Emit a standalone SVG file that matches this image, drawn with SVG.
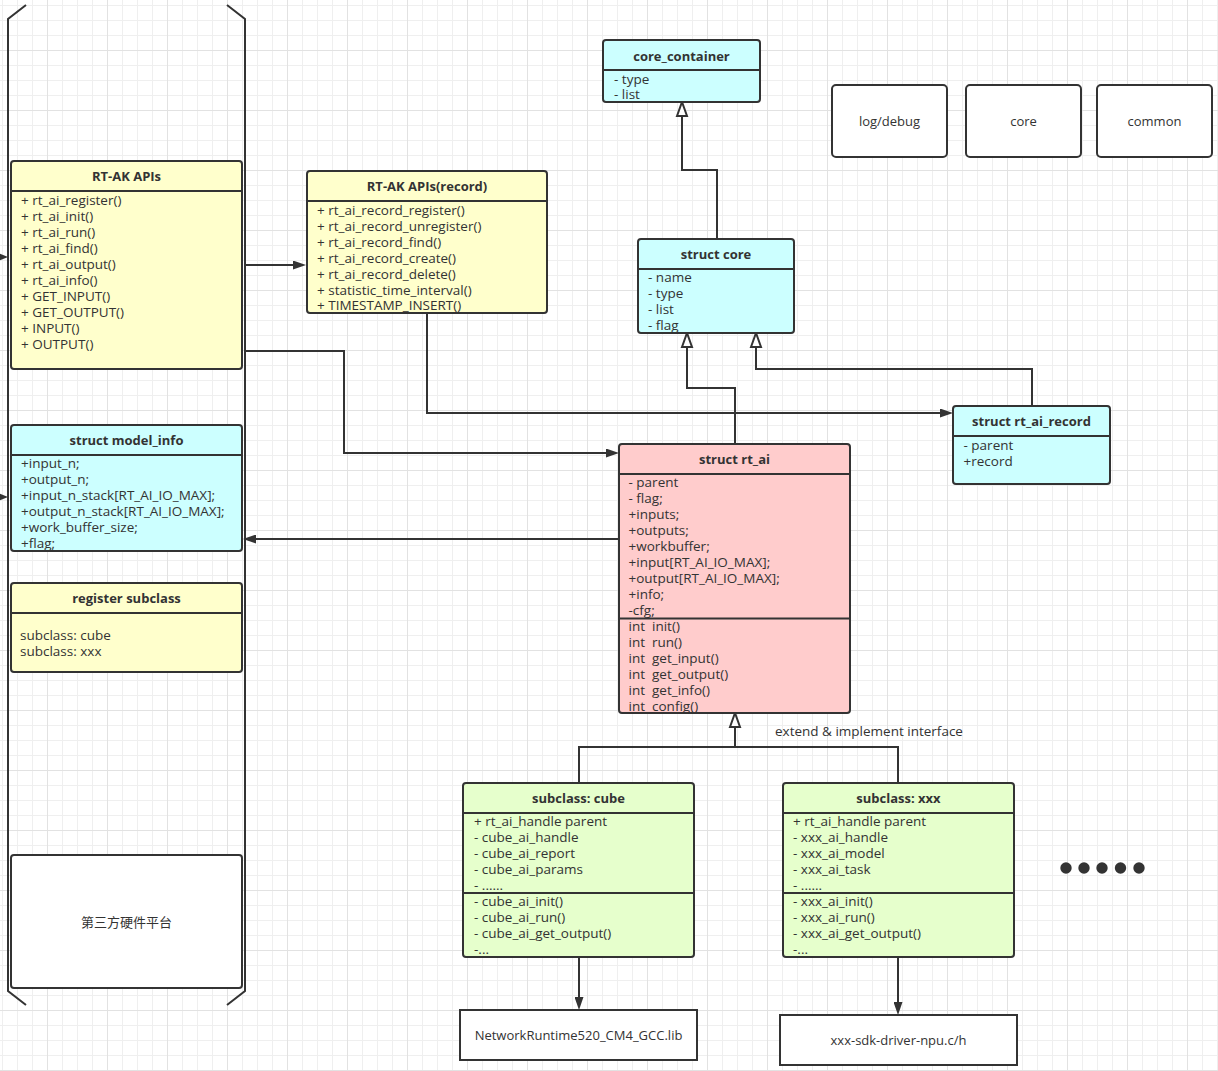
<svg xmlns="http://www.w3.org/2000/svg" width="1218" height="1071" viewBox="0 0 1218 1071">
<style>
text{font-family:"Open Sans","Noto Sans CJK SC",sans-serif;font-size:13.5px;fill:#333}
.t{font-weight:bold;text-anchor:middle;font-size:13px}
.c{text-anchor:middle;font-size:13px}
.box{stroke:#333;stroke-width:2}
.y{fill:#ffffcc}.b{fill:#ccffff}.r{fill:#ffcccc}.g{fill:#e6ffcc}.w{fill:#fff}
.ln{stroke:#333;stroke-width:2;fill:none}
.e{stroke:#333;stroke-width:2;fill:none}
.ea{stroke:#333;stroke-width:2;fill:none;marker-end:url(#arr)}
.eh{stroke:#333;stroke-width:2;fill:none;marker-end:url(#hol)}
.mi{fill:#efefef}.ma{fill:#e2e2e2}
</style>
<defs>
<pattern id="grid" x="2" y="5" width="60" height="60" patternUnits="userSpaceOnUse">
<rect class="mi" x="0" y="0" width="1" height="60"/><rect class="mi" x="15" y="0" width="1" height="60"/><rect class="mi" x="30" y="0" width="1" height="60"/>
<rect class="mi" x="0" y="0" width="60" height="1"/><rect class="mi" x="0" y="15" width="60" height="1"/><rect class="mi" x="0" y="30" width="60" height="1"/>
<rect class="ma" x="45" y="0" width="1" height="60"/><rect class="ma" x="0" y="45" width="60" height="1"/>
</pattern>
<marker id="arr" viewBox="0 0 13 9" refX="10" refY="4.5" markerWidth="13" markerHeight="9" markerUnits="userSpaceOnUse" orient="auto">
<path d="M0,0 L13,4.5 L0,9 Z" fill="#333"/>
</marker>
<marker id="hol" viewBox="-1 -1 16 12" refX="0" refY="5" markerWidth="16" markerHeight="12" markerUnits="userSpaceOnUse" orient="auto" overflow="visible">
<path d="M0,0 L14,5 L0,10 Z" fill="#fff" stroke="#333" stroke-width="2" stroke-linejoin="miter"/>
</marker>
</defs>
<rect width="1218" height="1071" fill="#fff"/>
<rect width="1218" height="1071" fill="url(#grid)"/>

<g id="bracket">
<path class="ln" d="M26,5 L8,19 L8,991 L26,1005"/>
<path class="ln" d="M227,5 L245,19 L245,991 L227,1005"/>
<path d="M-3,252.5 L8,257 L-3,261.5 Z" fill="#333"/>
<path d="M-3,492.5 L8,497 L-3,501.5 Z" fill="#333"/>
</g>

<g id="connectors">
<path class="ea" d="M245,265 H303"/>
<path class="ea" d="M245,351 H344 V453 H616"/>
<path class="ea" d="M619,539 H246"/>
<path class="ea" d="M427,313 V413 H950"/>
<path class="eh" d="M735,444 V388 H687 V347"/>
<path class="eh" d="M1032,406 V369 H756 V347"/>
<path class="eh" d="M717,239 V170 H682 V116"/>
<path class="e" d="M579,783 V747 H898 V783"/>
<path class="eh" d="M735,747 V727"/>
<path class="ea" d="M579,957 V1007"/>
<path class="ea" d="M898,957 V1012"/>
<text x="775" y="736">extend &amp; implement interface</text>
</g>

<g id="rtak_apis">
<rect class="box y" x="11" y="161" width="231" height="208" rx="3"/>
<path class="ln" d="M11,191 H242"/>
<text class="t" x="126.5" y="180.5">RT-AK APIs</text>
<text x="21" y="204.5">+ rt_ai_register()</text>
<text x="21" y="220.5">+ rt_ai_init()</text>
<text x="21" y="236.5">+ rt_ai_run()</text>
<text x="21" y="252.5">+ rt_ai_find()</text>
<text x="21" y="268.5">+ rt_ai_output()</text>
<text x="21" y="284.5">+ rt_ai_info()</text>
<text x="21" y="300.5">+ GET_INPUT()</text>
<text x="21" y="316.5">+ GET_OUTPUT()</text>
<text x="21" y="332.5">+ INPUT()</text>
<text x="21" y="348.5">+ OUTPUT()</text>
</g>

<g id="model_info">
<rect class="box b" x="11" y="425" width="231" height="126" rx="3"/>
<path class="ln" d="M11,455 H242"/>
<text class="t" x="126.5" y="445">struct model_info</text>
<text x="21" y="467.5">+input_n;</text>
<text x="21" y="483.5">+output_n;</text>
<text x="21" y="499.5">+input_n_stack[RT_AI_IO_MAX];</text>
<text x="21" y="515.5">+output_n_stack[RT_AI_IO_MAX];</text>
<text x="21" y="531.5">+work_buffer_size;</text>
<text x="21" y="547.5">+flag;</text>
</g>

<g id="register_subclass">
<rect class="box y" x="11" y="583" width="231" height="89" rx="3"/>
<path class="ln" d="M11,613 H242"/>
<text class="t" x="126.5" y="602.5">register subclass</text>
<text x="20" y="640">subclass: cube</text>
<text x="20" y="656">subclass: xxx</text>
</g>

<g id="hw_platform">
<rect class="box w" x="11" y="855" width="231" height="133" rx="3"/>
<text class="c" x="126.5" y="927">第三方硬件平台</text>
</g>

<g id="rtak_record">
<rect class="box y" x="307" y="171" width="240" height="142" rx="3"/>
<path class="ln" d="M307,201 H547"/>
<text class="t" x="427" y="191">RT-AK APIs(record)</text>
<text x="317" y="214.5">+ rt_ai_record_register()</text>
<text x="317" y="230.5">+ rt_ai_record_unregister()</text>
<text x="317" y="246.5">+ rt_ai_record_find()</text>
<text x="317" y="262.5">+ rt_ai_record_create()</text>
<text x="317" y="278.5">+ rt_ai_record_delete()</text>
<text x="317" y="294.5">+ statistic_time_interval()</text>
<text x="317" y="310">+ TIMESTAMP_INSERT()</text>
</g>

<g id="core_container">
<rect class="box b" x="603" y="40" width="157" height="62" rx="3"/>
<path class="ln" d="M603,70 H760"/>
<text class="t" x="681.5" y="60.5">core_container</text>
<text x="614" y="83.5">- type</text>
<text x="614" y="98.5">- list</text>
</g>

<g id="struct_core">
<rect class="box b" x="638" y="239" width="156" height="94" rx="3"/>
<path class="ln" d="M638,269 H794"/>
<text class="t" x="716" y="258.5">struct core</text>
<text x="648" y="282">- name</text>
<text x="648" y="298">- type</text>
<text x="648" y="313.5">- list</text>
<text x="648" y="329.5">- flag</text>
</g>

<g id="struct_rt_ai">
<rect class="box r" x="619" y="444" width="231" height="269" rx="3"/>
<path class="ln" d="M619,474 H850"/>
<path class="ln" d="M619,618.5 H850"/>
<text class="t" x="734.5" y="463.5">struct rt_ai</text>
<text x="628.5" y="487">- parent</text>
<text x="628.5" y="503">- flag;</text>
<text x="628.5" y="519">+inputs;</text>
<text x="628.5" y="535">+outputs;</text>
<text x="628.5" y="551">+workbuffer;</text>
<text x="628.5" y="567">+input[RT_AI_IO_MAX];</text>
<text x="628.5" y="583">+output[RT_AI_IO_MAX];</text>
<text x="628.5" y="598.5">+info;</text>
<text x="628.5" y="614.5">-cfg;</text>
<text x="628.5" y="631">int&#160; init()</text>
<text x="628.5" y="647">int&#160; run()</text>
<text x="628.5" y="663">int&#160; get_input()</text>
<text x="628.5" y="679">int&#160; get_output()</text>
<text x="628.5" y="695">int&#160; get_info()</text>
<text x="628.5" y="711">int&#160; config()</text>
</g>

<g id="struct_rt_ai_record">
<rect class="box b" x="953" y="406" width="157" height="78" rx="3"/>
<path class="ln" d="M953,436 H1110"/>
<text class="t" x="1031.5" y="426">struct rt_ai_record</text>
<text x="963.5" y="449.5">- parent</text>
<text x="963.5" y="465.5">+record</text>
</g>

<g id="subclass_cube">
<rect class="box g" x="463" y="783" width="231" height="174" rx="3"/>
<path class="ln" d="M463,813 H694"/>
<path class="ln" d="M463,893 H694"/>
<text class="t" x="578.5" y="802.5">subclass: cube</text>
<text x="474" y="826">+ rt_ai_handle parent</text>
<text x="474" y="842">- cube_ai_handle</text>
<text x="474" y="858">- cube_ai_report</text>
<text x="474" y="874">- cube_ai_params</text>
<text x="474" y="890">- ......</text>
<text x="474" y="906">- cube_ai_init()</text>
<text x="474" y="922">- cube_ai_run()</text>
<text x="474" y="938">- cube_ai_get_output()</text>
<text x="474" y="954">-...</text>
</g>

<g id="subclass_xxx">
<rect class="box g" x="783" y="783" width="231" height="174" rx="3"/>
<path class="ln" d="M783,813 H1014"/>
<path class="ln" d="M783,893 H1014"/>
<text class="t" x="898.5" y="802.5">subclass: xxx</text>
<text x="793" y="826">+ rt_ai_handle parent</text>
<text x="793" y="842">- xxx_ai_handle</text>
<text x="793" y="858">- xxx_ai_model</text>
<text x="793" y="874">- xxx_ai_task</text>
<text x="793" y="890">- ......</text>
<text x="793" y="906">- xxx_ai_init()</text>
<text x="793" y="922">- xxx_ai_run()</text>
<text x="793" y="938">- xxx_ai_get_output()</text>
<text x="793" y="954">-...</text>
</g>

<g id="lib_cube">
<rect class="box w" x="460" y="1010" width="237" height="50"/>
<text class="c" x="578.5" y="1039.5">NetworkRuntime520_CM4_GCC.lib</text>
</g>

<g id="lib_xxx">
<rect class="box w" x="780" y="1015" width="237" height="50"/>
<text class="c" x="898.5" y="1045">xxx-sdk-driver-npu.c/h</text>
</g>

<g id="log_debug">
<rect class="box w" x="832" y="85" width="115" height="72" rx="4"/>
<text class="c" x="889.5" y="126">log/debug</text>
</g>
<g id="core">
<rect class="box w" x="966" y="85" width="115" height="72" rx="4"/>
<text class="c" x="1023.5" y="126">core</text>
</g>
<g id="common">
<rect class="box w" x="1097" y="85" width="115" height="72" rx="4"/>
<text class="c" x="1154.5" y="126">common</text>
</g>

<g id="more">
<circle cx="1066" cy="868" r="5.7" fill="#333"/>
<circle cx="1084" cy="868" r="5.7" fill="#333"/>
<circle cx="1102" cy="868" r="5.7" fill="#333"/>
<circle cx="1120.5" cy="868" r="5.7" fill="#333"/>
<circle cx="1139" cy="868" r="5.7" fill="#333"/>
</g>
</svg>
